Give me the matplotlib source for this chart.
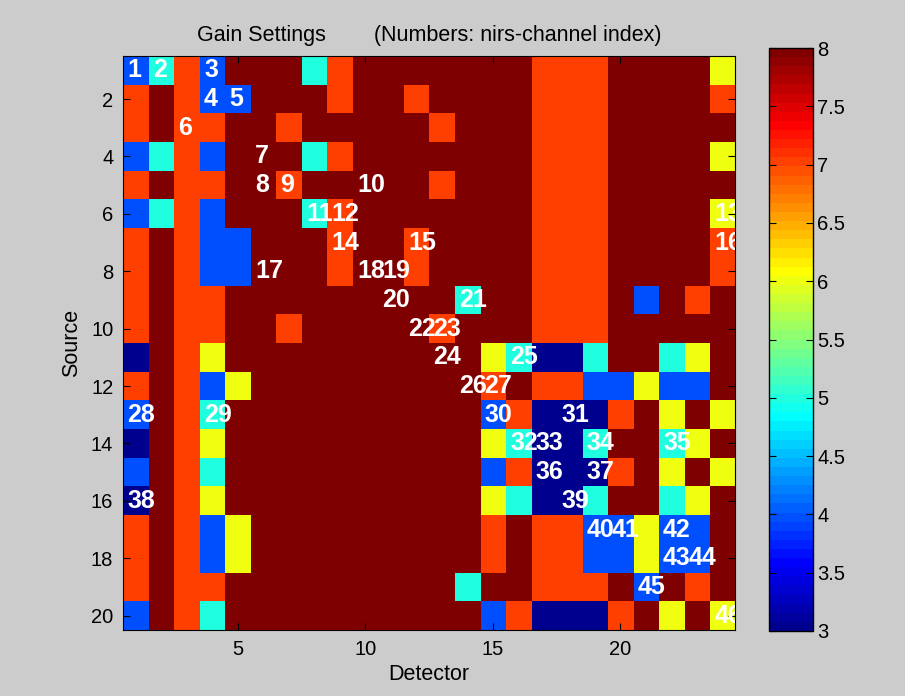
import numpy as np
from matplotlib import pyplot as plt
from matplotlib.colors import ListedColormap

# gain value per source (row) and detector (column)
gain_rows = [
    [4, 5, 7, 4, 8, 8, 8, 5, 7, 8, 8, 8, 8, 8, 8, 8, 7, 7, 7, 8, 8, 8, 8, 6],
    [7, 8, 7, 4, 4, 8, 8, 8, 7, 8, 8, 7, 8, 8, 8, 8, 7, 7, 7, 8, 8, 8, 8, 7],
    [7, 8, 7, 7, 8, 8, 7, 8, 8, 8, 8, 8, 7, 8, 8, 8, 7, 7, 7, 8, 8, 8, 8, 8],
    [4, 5, 7, 4, 8, 8, 8, 5, 7, 8, 8, 8, 8, 8, 8, 8, 7, 7, 7, 8, 8, 8, 8, 6],
    [7, 8, 7, 7, 8, 8, 7, 8, 8, 8, 8, 8, 7, 8, 8, 8, 7, 7, 7, 8, 8, 8, 8, 8],
    [4, 5, 7, 4, 8, 8, 8, 5, 7, 8, 8, 8, 8, 8, 8, 8, 7, 7, 7, 8, 8, 8, 8, 6],
    [7, 8, 7, 4, 4, 8, 8, 8, 7, 8, 8, 7, 8, 8, 8, 8, 7, 7, 7, 8, 8, 8, 8, 7],
    [7, 8, 7, 4, 4, 8, 8, 8, 7, 8, 8, 7, 8, 8, 8, 8, 7, 7, 7, 8, 8, 8, 8, 7],
    [7, 8, 7, 7, 8, 8, 8, 8, 8, 8, 8, 8, 8, 5, 8, 8, 7, 7, 7, 8, 4, 8, 7, 8],
    [7, 8, 7, 7, 8, 8, 7, 8, 8, 8, 8, 8, 7, 8, 8, 8, 7, 7, 7, 8, 8, 8, 8, 8],
    [3, 8, 7, 6, 8, 8, 8, 8, 8, 8, 8, 8, 8, 8, 6, 5, 3, 3, 5, 8, 8, 5, 6, 8],
    [7, 8, 7, 4, 6, 8, 8, 8, 8, 8, 8, 8, 8, 8, 7, 8, 7, 7, 4, 4, 6, 4, 4, 8],
    [4, 8, 7, 5, 8, 8, 8, 8, 8, 8, 8, 8, 8, 8, 4, 7, 3, 3, 3, 7, 8, 6, 8, 6],
    [3, 8, 7, 6, 8, 8, 8, 8, 8, 8, 8, 8, 8, 8, 6, 5, 3, 3, 5, 8, 8, 5, 6, 8],
    [4, 8, 7, 5, 8, 8, 8, 8, 8, 8, 8, 8, 8, 8, 4, 7, 3, 3, 3, 7, 8, 6, 8, 6],
    [3, 8, 7, 6, 8, 8, 8, 8, 8, 8, 8, 8, 8, 8, 6, 5, 3, 3, 5, 8, 8, 5, 6, 8],
    [7, 8, 7, 4, 6, 8, 8, 8, 8, 8, 8, 8, 8, 8, 7, 8, 7, 7, 4, 4, 6, 4, 4, 8],
    [7, 8, 7, 4, 6, 8, 8, 8, 8, 8, 8, 8, 8, 8, 7, 8, 7, 7, 4, 4, 6, 4, 4, 8],
    [7, 8, 7, 7, 8, 8, 8, 8, 8, 8, 8, 8, 8, 5, 8, 8, 7, 7, 7, 8, 4, 8, 7, 8],
    [4, 8, 7, 5, 8, 8, 8, 8, 8, 8, 8, 8, 8, 8, 4, 7, 3, 3, 3, 7, 8, 6, 8, 6],
]

# nirs channel index -> (source, detector)
channel_src = [1, 1, 1, 2, 2, 3, 4, 5, 5, 5, 6, 6, 6, 7, 7, 7, 8, 8, 8, 9, 9, 10, 10,
               11, 11, 12, 12, 13, 13, 13, 13, 14, 14, 14, 14, 15, 15, 16, 16,
               17, 17, 17, 18, 18, 19, 20]
channel_det = [1, 2, 4, 4, 5, 3, 6, 6, 7, 10, 8, 9, 24, 9, 12, 24, 6, 10, 11, 11, 14,
               12, 13, 13, 16, 14, 15, 1, 4, 15, 18, 16, 17, 19, 22, 17, 19, 1, 18,
               19, 20, 22, 22, 23, 21, 24]


def matlab_jet(m=64):
    # same construction as MATLAB's jet.m
    n = int(np.ceil(m / 4))
    u = np.concatenate([np.arange(1, n + 1) / n, np.ones(n - 1),
                        np.arange(n, 0, -1) / n])
    g = int(np.ceil(n / 2)) - (m % 4 == 1) + np.arange(1, len(u) + 1)
    r = g + n
    b = g - n
    g = g[g <= m]
    r = r[r <= m]
    b = b[b >= 1]
    J = np.zeros((m, 3))
    J[r - 1, 0] = u[:len(r)]
    J[g - 1, 1] = u[:len(g)]
    J[b - 1, 2] = u[len(u) - len(b):]
    return ListedColormap(J)


plt.rcParams['font.family'] = ['Liberation Sans', 'DejaVu Sans']

gain = np.array(gain_rows)
n_src, n_det = gain.shape

fig = plt.figure(figsize=(9.05, 6.96), dpi=100, facecolor='#cccccc')
ax = fig.add_axes([0.1359, 0.0948, 0.6763, 0.8247])
cax = fig.add_axes([0.8497, 0.0934, 0.0486, 0.8376])

im = ax.imshow(gain, cmap=matlab_jet(64), vmin=3, vmax=8,
               extent=(0.5, n_det + 0.5, n_src + 0.5, 0.5),
               aspect='auto', interpolation='nearest')

for i, (s, d) in enumerate(zip(channel_src, channel_det)):
    ax.text(d - 0.32, s, str(i + 1), color='white', fontsize=18,
            fontweight='bold', ha='left', va='center', clip_on=True)

ax.set_xticks([5, 10, 15, 20])
ax.set_yticks(range(2, 21, 2))
ax.tick_params(direction='in', top=True, right=True, labelsize=14.5,
               length=5, pad=7)
ax.set_xlabel("Detector", fontsize=15.5, labelpad=4)
ax.set_ylabel("Source", fontsize=15.5, labelpad=6)
ax.set_title("Gain Settings        (Numbers: nirs-channel index)",
             fontsize=15.5, pad=11)

cb = fig.colorbar(im, cax=cax, ticks=np.arange(3, 8.01, 0.5))
cb.ax.set_yticklabels(['3', '3.5', '4', '4.5', '5', '5.5', '6', '6.5', '7', '7.5', '8'])
cb.ax.tick_params(direction='in', left=True, right=True, labelsize=14.5,
                  length=5, pad=3)
cb.outline.set_linewidth(1)

plt.savefig("out.png", dpi=100, facecolor=fig.get_facecolor())
plt.close()
